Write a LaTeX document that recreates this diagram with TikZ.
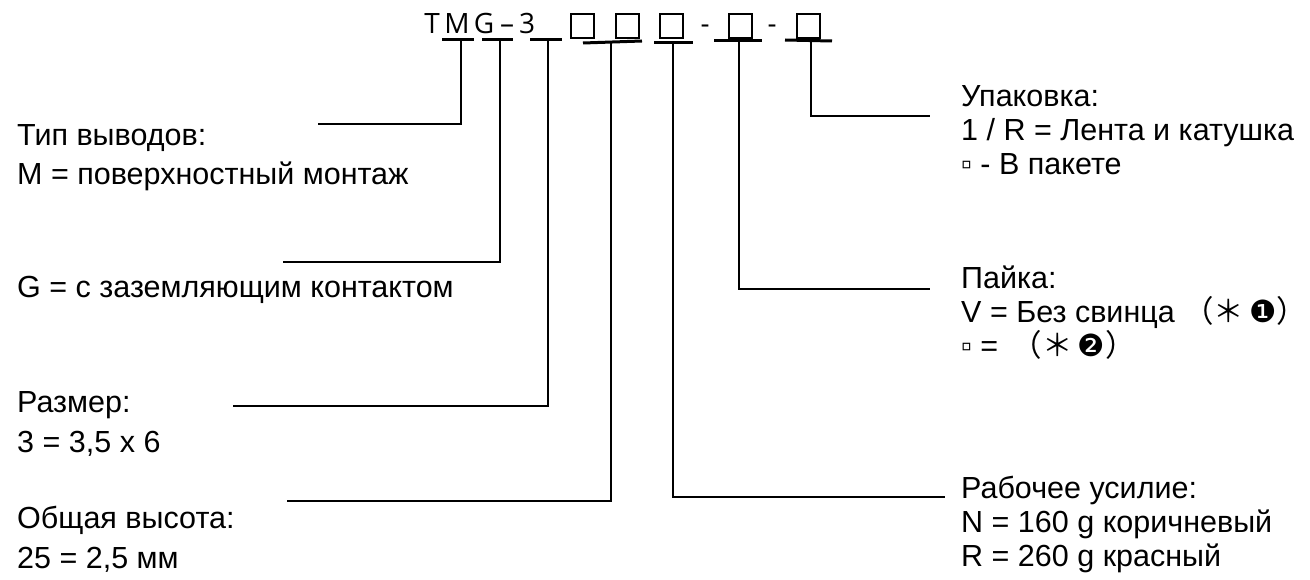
\documentclass[tikz,border=0pt]{standalone}
\usepackage{fontspec}
\setmainfont{Liberation Sans}
\newfontfamily\codefont{Open Sans}
\newfontfamily\cjkfont{Noto Sans CJK SC}
\newfontfamily\symfont{DejaVu Sans}
\tikzset{%
  code char/.style = {inner sep=0pt, anchor=base,
    font=\codefont\fontsize{28}{30}\selectfont},
  code box/.style = {draw, line width=2pt, minimum width=23pt,
    minimum height=24pt, inner sep=0pt},
  code bar/.style = {line width=3pt},
  lead/.style = {line width=2.5pt},
  legend/.style = {inner sep=0pt, anchor=base west, align=left,
    font=\fontsize{30.5}{39.5}\selectfont},
  legend right/.style = {legend, font=\fontsize{30.5}{34}\selectfont},
}
\newcommand{\fwnote}[1]{{\cjkfont （}{\cjkfont ＊}\,{\symfont #1}\rlap{\cjkfont ）}}

\begin{document}
\begin{tikzpicture}[x=1pt,y=-1pt]
\useasboundingbox (0,0) rectangle (1310,580);
% part number
\node[code char] (cT) at (432,34) {T};
\node[code char] (cM) at (457,34) {M};
\node[code char] (cG) at (484,34) {G};
\node[code char] (cD) at (507,34) {–};
\node[code char] (c3) at (527,34) {3};
\node[code box] (b1) at (582,26) {};
\node[code box] (b2) at (627,26) {};
\node[code box] (b3) at (671,26) {};
\node[code char] (h1) at (705,34) {-};
\node[code box] (b4) at (740,26) {};
\node[code char] (h2) at (772,34) {-};
\node[code box] (b5) at (808,26) {};
% bars under the code
\draw[code bar] (442,40) -- (474,40);
\draw[code bar] (482,40) -- (513,40);
\draw[code bar] (530,40) -- (562,40);
\draw[code bar] (583,43) -- (642,41);
\draw[code bar] (654,43) -- (693,43);
\draw[code bar] (714,41) -- (762,41);
\draw[code bar] (785,40) -- (832,41);
\coordinate (sM) at (461,40);
\coordinate (sG) at (500,40);
\coordinate (s3) at (548,40);
\coordinate (sH) at (611,42);
\coordinate (sF) at (673,43);
\coordinate (sS) at (739,41);
\coordinate (sP) at (811,41);
% ends of the leads
\coordinate (eM) at (318,124);
\coordinate (eG) at (283,262);
\coordinate (e3) at (233,406);
\coordinate (eH) at (287,501);
\coordinate (eF) at (945,497);
\coordinate (eS) at (930,289);
\coordinate (eP) at (930,116);
% legends (placed by the baseline of their last line)
\node[legend] (tip) at (17,185) {Тип выводов:\\M = поверхностный монтаж};
\node[legend] (gnd) at (17,298) {G = с заземляющим контактом};
\node[legend] (size) at (17,452) {Размер:\\3 = 3,5 x 6};
\node[legend] (height) at (17,568) {Общая высота:\\25 = 2,5 мм};
\node[legend right] (pack) at (961,175)
  {Упаковка:\\1 / R = Лента и катушка\\▫ - В пакете};
\node[legend right] (solder) at (961,356)
  {Пайка:\\V = Без свинца \fwnote{❶}\\▫ = \,\fwnote{❷}};
\node[legend right] (force) at (961,566)
  {Рабочее усилие:\\N = 160 g коричневый\\R = 260 g красный};
% leads
\draw[lead] (sM) |- (eM);
\draw[lead] (sG) |- (eG);
\draw[lead] (s3) |- (e3);
\draw[lead] (sH) |- (eH);
\draw[lead] (sF) |- (eF);
\draw[lead] (sS) |- (eS);
\draw[lead] (sP) |- (eP);
\end{tikzpicture}
\end{document}
